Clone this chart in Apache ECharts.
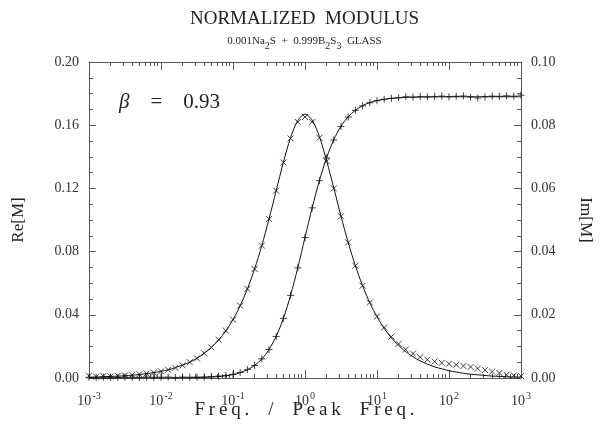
<!DOCTYPE html>
<html>
<head>
<meta charset="utf-8">
<script src="https://cdn.jsdelivr.net/npm/echarts@6/dist/echarts.min.js"></script>
<style>html,body{margin:0;padding:0;background:#fff;}#c{width:609px;height:433px;}</style>
</head>
<body>
<div id="c"></div>
<script>
// log10 of Freq./Peak Freq. for every sample
const freqExp = [-3.0,-2.9,-2.8,-2.7,-2.6,-2.5,-2.4,-2.3,-2.2,-2.1,-2.0,-1.9,-1.8,-1.7,-1.6,-1.5,-1.4,-1.3,-1.2,-1.1,-1.0,-0.9,-0.8,-0.7,-0.6,-0.5,-0.4,-0.3,-0.2,-0.1,0.0,0.1,0.2,0.3,0.4,0.5,0.6,0.7,0.8,0.9,1.0,1.1,1.2,1.3,1.4,1.5,1.6,1.7,1.8,1.9,2.0,2.1,2.2,2.3,2.4,2.5,2.6,2.7,2.8,2.9,3.0];
// Re[M] measured (+)
const reData = [0.0005,0.0004,0.0006,0.0005,0.0004,0.0006,0.0005,0.0004,0.0006,0.0005,0.0005,0.0006,0.0004,0.0006,0.0005,0.0006,0.0007,0.0009,0.0012,0.0016,0.0023,0.0035,0.0053,0.0080,0.0121,0.0180,0.0263,0.0377,0.0523,0.0697,0.0889,0.1077,0.1249,0.1393,0.1507,0.1592,0.1652,0.1694,0.1722,0.1742,0.1755,0.1764,0.1770,0.1774,0.1780,0.1778,0.1781,0.1779,0.1782,0.1784,0.1780,0.1783,0.1785,0.1778,0.1772,0.1780,0.1784,0.1783,0.1786,0.1784,0.1790];
// Re[M] fit (solid line)
const reFit = [0.0000,0.0000,0.0000,0.0000,0.0000,0.0000,0.0000,0.0000,0.0000,0.0000,0.0000,0.0001,0.0001,0.0001,0.0002,0.0003,0.0004,0.0006,0.0009,0.0014,0.0022,0.0034,0.0052,0.0080,0.0120,0.0180,0.0264,0.0377,0.0524,0.0698,0.0890,0.1078,0.1249,0.1394,0.1508,0.1593,0.1653,0.1695,0.1724,0.1743,0.1756,0.1764,0.1770,0.1773,0.1776,0.1777,0.1778,0.1779,0.1779,0.1780,0.1780,0.1780,0.1780,0.1780,0.1780,0.1780,0.1780,0.1780,0.1780,0.1780,0.1780];
// Im[M] measured (x)
const imData = [0.0006,0.0004,0.0006,0.0005,0.0007,0.0008,0.0010,0.0012,0.0014,0.0017,0.0021,0.0026,0.0032,0.0040,0.0050,0.0062,0.0078,0.0097,0.0121,0.0150,0.0185,0.0229,0.0282,0.0345,0.0419,0.0503,0.0593,0.0682,0.0758,0.0810,0.0826,0.0810,0.0760,0.0686,0.0600,0.0512,0.0429,0.0355,0.0292,0.0239,0.0195,0.0160,0.0131,0.0108,0.0090,0.0077,0.0066,0.0058,0.0052,0.0048,0.0045,0.0042,0.0038,0.0035,0.0030,0.0025,0.0020,0.0016,0.0010,0.0008,0.0006];
// Im[M] fit (solid line)
const imFit = [0.0002,0.0003,0.0004,0.0005,0.0006,0.0007,0.0009,0.0011,0.0014,0.0017,0.0021,0.0026,0.0033,0.0041,0.0050,0.0063,0.0078,0.0097,0.0120,0.0149,0.0185,0.0229,0.0282,0.0345,0.0419,0.0503,0.0593,0.0683,0.0761,0.0815,0.0835,0.0816,0.0764,0.0688,0.0601,0.0512,0.0429,0.0355,0.0292,0.0238,0.0194,0.0157,0.0127,0.0103,0.0083,0.0067,0.0054,0.0044,0.0035,0.0029,0.0023,0.0019,0.0015,0.0012,0.0010,0.0008,0.0006,0.0005,0.0004,0.0003,0.0003];
const xMajor = [0.001,0.01,0.1,1,10,100,1000];
const xMinorMult = [2,3,4,5,6,7,8,9];
const reTicks = [0,0.04,0.08,0.12,0.16,0.20];
const imTicks = [0,0.02,0.04,0.06,0.08,0.10];

const pairs = (ys) => freqExp.map((e, i) => [Math.pow(10, e), ys[i]]);
const xMinor = [];
xMajor.slice(0, -1).forEach(d => xMinorMult.forEach(m => xMinor.push(d * m)));
const spaced = s => s.split('').join('\u2009');

const FONT = '"Liberation Serif", "DejaVu Serif", serif';
const INK = '#222';
const AX = '#555';
const PLUS = 'path://M5,0L5,10M0,5L10,5';
const CROSS = 'path://M0,0L10,10M10,0L0,10';

const chart = echarts.init(document.getElementById('c'), null, {renderer: 'canvas'});
const G = {left: 89, right: 88, top: 62, bottom: 55};

function xAx(pos, major, labels) {
  return {
    type: 'log', logBase: 10, min: 0.001, max: 1000, position: pos,
    axisLine: {show: major, lineStyle: {color: AX, width: 1}},
    axisTick: {show: true, inside: true, length: major ? 8 : 4,
      customValues: major ? xMajor : xMinor, lineStyle: {color: AX, width: 1}},
    axisLabel: labels ? {
      show: true, customValues: xMajor, margin: 13,
      formatter: v => '{b|10}{s|' + Math.round(Math.log10(v)) + '}',
      rich: {b: {fontFamily: FONT, fontSize: 14, color: '#333'},
             s: {fontFamily: FONT, fontSize: 10, color: '#333', padding: [0, 0, 11, 1]}}
    } : {show: false},
    splitLine: {show: false}
  };
}
function yAx(pos, max, interval, name, rot) {
  return {
    type: 'value', min: 0, max: max, interval: interval, position: pos,
    name: name, nameLocation: 'middle', nameRotate: rot,
    nameGap: pos === 'left' ? 62 : 56,
    nameTextStyle: {fontFamily: FONT, fontSize: 17, color: INK},
    axisLine: {show: true, lineStyle: {color: AX, width: 1}},
    axisTick: {show: true, inside: true, length: 7, lineStyle: {color: AX}},
    minorTick: {show: true, splitNumber: 4, length: 4, lineStyle: {color: AX}},
    axisLabel: {fontFamily: FONT, fontSize: 14, color: '#333', margin: 10,
      formatter: v => v.toFixed(2)},
    splitLine: {show: false}, minorSplitLine: {show: false}
  };
}

chart.setOption({
  backgroundColor: '#fff',
  animation: false,
  title: [
    {text: 'NORMALIZED  MODULUS', left: 'center', top: 5,
      textStyle: {fontFamily: FONT, fontSize: 19, fontWeight: 'normal', color: INK}},
    {text: '0.001Na{sub|2}S  +  0.999B{sub|2}S{sub|3}  GLASS', left: 'center', top: 27,
      textStyle: {fontFamily: FONT, fontSize: 11, fontWeight: 'normal', color: INK,
        rich: {sub: {fontFamily: FONT, fontSize: 10, color: INK, padding: [9, 0, 0, 0]}}}}
  ],
  grid: G,
  xAxis: [xAx('bottom', true, true), xAx('bottom', false, false), xAx('top', true, false), xAx('top', false, false)],
  yAxis: [yAx('left', 0.2, 0.04, 'Re[M]', 90), yAx('right', 0.1, 0.02, 'Im[M]', -90)],
  graphic: [{
    type: 'text', left: 119, top: 92,
    style: {text: '{i|β}    =    0.93', fontFamily: FONT, fontSize: 21, fill: INK,
      rich: {i: {fontFamily: FONT, fontStyle: 'italic', fontSize: 21, fill: INK}}}
  }, {
    type: 'text', left: 'center', top: 401,
    style: {text: spaced('Freq.') + '    /    ' + spaced('Peak') + '    ' + spaced('Freq.'),
      fontFamily: FONT, fontSize: 19, fill: INK}
  }],
  series: [
    {name: 'Re fit', type: 'line', xAxisIndex: 0, yAxisIndex: 0, data: pairs(reFit),
      showSymbol: false, smooth: 0.3, lineStyle: {color: '#111', width: 1}, z: 2},
    {name: 'Im fit', type: 'line', xAxisIndex: 0, yAxisIndex: 1, data: pairs(imFit),
      showSymbol: false, smooth: 0.3, lineStyle: {color: '#111', width: 1}, z: 2},
    {name: 'Re[M]', type: 'scatter', xAxisIndex: 0, yAxisIndex: 0, data: pairs(reData),
      symbol: PLUS, symbolSize: 7, itemStyle: {color: 'none', borderColor: '#111', borderWidth: 1}, z: 3},
    {name: 'Im[M]', type: 'scatter', xAxisIndex: 0, yAxisIndex: 1, data: pairs(imData),
      symbol: CROSS, symbolSize: 6, itemStyle: {color: 'none', borderColor: '#111', borderWidth: 1}, z: 3}
  ]
});
</script>
</body>
</html>
